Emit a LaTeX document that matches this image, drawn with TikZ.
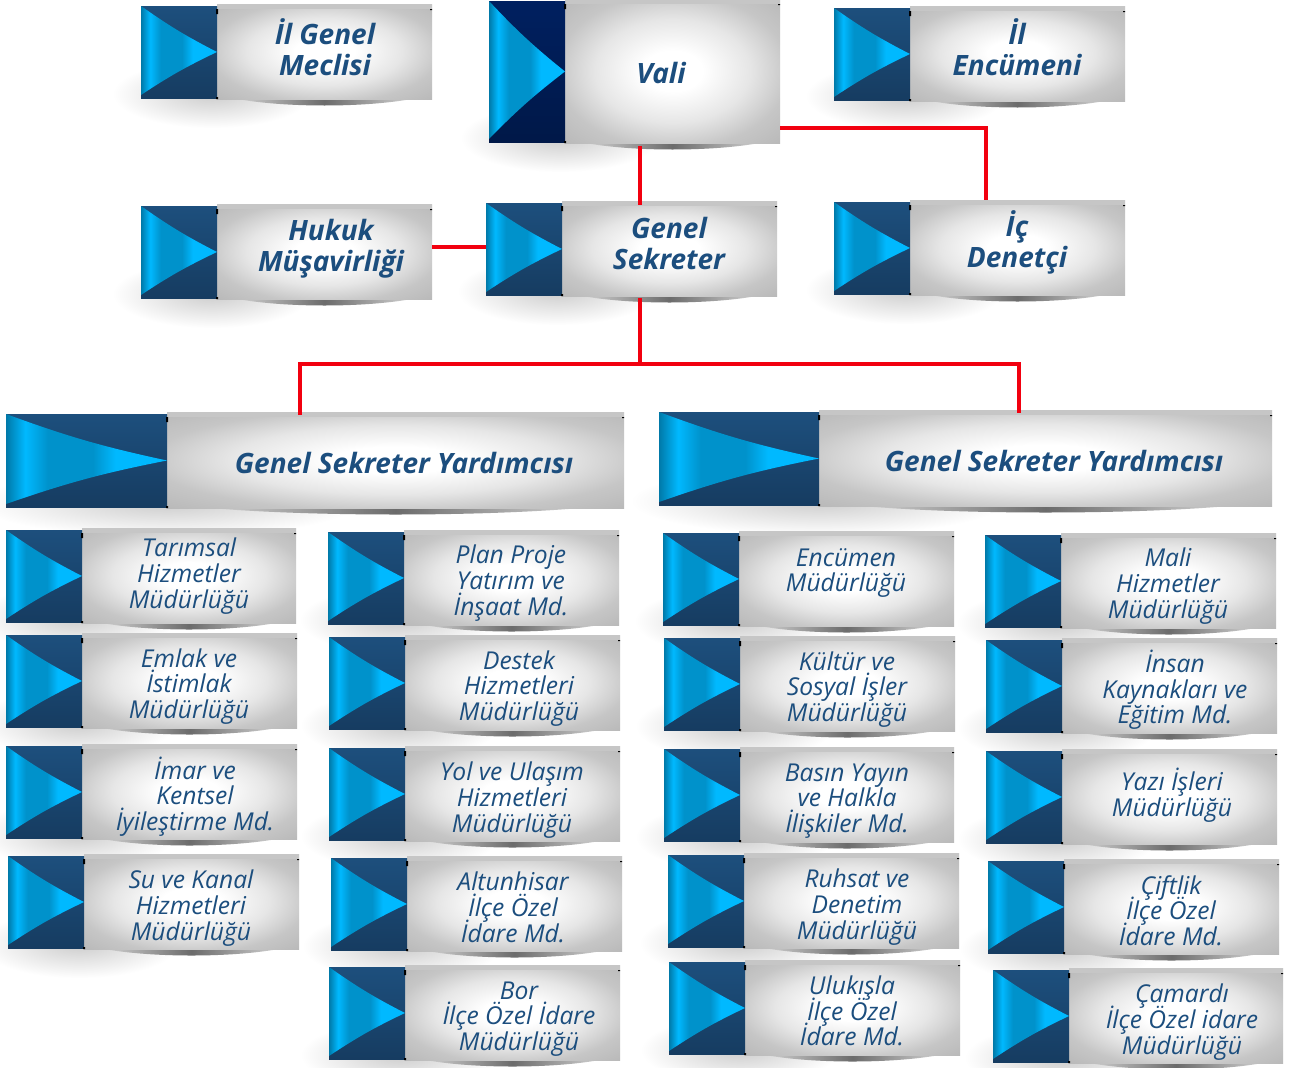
\documentclass[tikz,border=0pt]{standalone}
\usepackage{fontspec}
\setmainfont{Open Sans}
\usetikzlibrary{fadings,calc}
\lineskiplimit=-100pt
\definecolor{inkblue}{HTML}{1C4E7E}
\definecolor{linkred}{HTML}{F2000F}
\definecolor{bandgray}{HTML}{C6C6C6}
\definecolor{blocktop}{HTML}{1D4F7D}
\definecolor{blockbot}{HTML}{163C61}
\definecolor{navytop}{HTML}{002060}
\definecolor{navybot}{HTML}{001848}
\definecolor{triA}{HTML}{0079A8}
\definecolor{triB}{HTML}{00B9FF}
\definecolor{triC}{HTML}{0092CB}
\definecolor{radA}{HTML}{FFFFFF}
\definecolor{radB}{HTML}{E6E6E6}
\definecolor{radC}{HTML}{C6C6C6}
\definecolor{radD}{HTML}{B8B8B8}
\pgfdeclarehorizontalshading{trishade}{100bp}{color(0bp)=(triA); color(25bp)=(triA); color(31bp)=(triB); color(38bp)=(triC); color(52bp)=(triC); color(59bp)=(triB); color(75bp)=(triB); color(100bp)=(triB)}
\pgfdeclareradialshading{bodyshade}{\pgfpointorigin}{color(0bp)=(radA); color(7bp)=(radA); color(18bp)=(radB); color(27bp)=(radC); color(36bp)=(radD); color(50bp)=(radD)}
\tikzfading[name=softblob, inner color=transparent!0, outer color=transparent!100]
\tikzset{
  x=1pt,y=-1pt,
  link/.style={draw=linkred,line width=3.4pt,line join=miter},
  bigtext/.style={font=\fontsize{28}{31}\selectfont\bfseries\itshape,text=inkblue,align=center,inner sep=0pt},
  smalltext/.style={font=\fontsize{24.6}{25.7}\selectfont\itshape,text=inkblue,align=center,inner sep=0pt,yshift=-2.5pt},
  blockfill/.style={top color=blocktop,bottom color=blockbot},
  navyfill/.style={top color=navytop,bottom color=navybot},
  cardbody/.style={shading=bodyshade,inner sep=0pt,outer sep=0pt,anchor=north west},
}
% #1 block style, #2 text style, #3 name, #4 L,S,R,T,B, #5 cx,cy, #6 text
\def\cardparse#1,#2,#3,#4,#5\relax{\def\cL{#1}\def\cS{#2}\def\cR{#3}\def\cT{#4}\def\cB{#5}}
\newcommand\card[6]{%
  \cardparse#4\relax
  \pgfmathsetmacro\cM{(\cT+\cB)/2}
  \pgfmathsetmacro\cW{\cR-\cS}
  \pgfmathsetmacro\cH{\cB-\cT+3}
  \fill[black,opacity=.2,path fading=softblob] (\cL-28,\cB-38) rectangle (\cL+0.55*\cR-0.55*\cL+10,\cB+30);
  \shade[left color=bandgray!70,right color=bandgray!70,middle color=black!58]
    (\cS+0.07*\cW,\cB) .. controls (\cS+0.3*\cW,\cB+10) and (\cS+0.7*\cW,\cB+10) .. (\cR-0.07*\cW,\cB) -- cycle;
  \node[cardbody,minimum width=\cW pt,minimum height=\cH pt] (#3) at (\cS,\cT-2) {};
  \fill[bandgray] (\cS,\cT-2) rectangle (\cR,\cT+3);
  \fill[#1] (\cL,\cT) rectangle (\cS,\cB);
  \shade[shading=trishade] (\cL,\cT) to[bend right=4] (\cS,\cM) to[bend right=4] (\cL,\cB-3) -- cycle;
  \fill[black] (\cS-1,\cT+3) rectangle (\cS+1,\cT+8) (\cS-1,\cB-1) rectangle (\cS+1,\cB+1) (\cR-2,\cT+3) rectangle (\cR,\cT+4);
  \node[#2] (#3-label) at (#5) {#6};
}
\begin{document}
\begin{tikzpicture}
\useasboundingbox (0,0) rectangle (1293,1068);
\fill[white] (0,0) rectangle (1293,1068);
% top rows
\card{blockfill}{bigtext}{meclis}{141,217,432,6,98}{325,47.5}{İl Genel\\Meclisi}
\card{navyfill}{bigtext}{vali}{489,565,780,1,142}{661,73}{Vali}
\card{blockfill}{bigtext}{encumen}{834,910,1125,8,100}{1017,47}{İl\\Encümeni}
\card{blockfill}{bigtext}{hukuk}{141,217,432,206,298}{331,248.5}{Hukuk\\Müşavirliği}
\card{blockfill}{bigtext}{sekreter}{486,562,777,203,295}{669,243.5}{Genel\\Sekreter}
\card{blockfill}{bigtext}{denetci}{834,910,1125,202,294}{1017,242.5}{İç\\Denetçi}
% deputies
\card{blockfill}{bigtext}{gsyl}{6,167,624,414,507}{404,463}{Genel Sekreter Yardımcısı}
\card{blockfill}{bigtext}{gsyr}{659,819,1272,412,505}{1054,461}{Genel Sekreter Yardımcısı}
% column 1
\card{blockfill}{smalltext}{tarim}{6,82,296,530,622}{189,573.5}{Tarımsal\\Hizmetler\\Müdürlüğü}
\card{blockfill}{smalltext}{emlak}{6,82,297,635,727}{189,684}{Emlak ve\\İstimlak\\Müdürlüğü}
\card{blockfill}{smalltext}{imar}{6,82,297,746,838}{195,794}{İmar ve\\Kentsel\\İyileştirme Md.}
\card{blockfill}{smalltext}{su}{8,84,299,856,948}{191,905.5}{Su ve Kanal\\Hizmetleri\\Müdürlüğü}
% column 2
\card{blockfill}{smalltext}{plan}{328,404,619,532,624}{511,580.5}{Plan Proje\\Yatırım ve\\İnşaat Md.}
\card{blockfill}{smalltext}{destek}{329,405,620,637,729}{519,686}{Destek\\Hizmetleri\\Müdürlüğü}
\card{blockfill}{smalltext}{yol}{329,405,620,748,840}{512,797.5}{Yol ve Ulaşım\\Hizmetleri\\Müdürlüğü}
\card{blockfill}{smalltext}{altun}{331,407,622,858,950}{513,905}{Altunhisar\\İlçe Özel\\İdare Md.}
\card{blockfill}{smalltext}{bor}{329,405,620,967,1059}{519,1016.5}{Bor\\İlçe Özel İdare\\Müdürlüğü}
% column 3
\card{blockfill}{smalltext}{encm}{663,739,954,533,625}{846,570.5}{Encümen\\Müdürlüğü}
\card{blockfill}{smalltext}{kultur}{664,740,955,638,730}{847,687}{Kültür ve\\Sosyal İşler\\Müdürlüğü}
\card{blockfill}{smalltext}{basin}{664,740,954,749,841}{847,798.5}{Basın Yayın\\ve Halkla\\İlişkiler Md.}
\card{blockfill}{smalltext}{ruhsat}{668,744,959,855,947}{857,904.5}{Ruhsat ve\\Denetim\\Müdürlüğü}
\card{blockfill}{smalltext}{ulukisla}{669,745,960,962,1054}{852,1008.5}{Ulukışla\\İlçe Özel\\İdare Md.}
% column 4
\card{blockfill}{smalltext}{mali}{985,1061,1276,535,627}{1168,583.5}{Mali\\Hizmetler\\Müdürlüğü}
\card{blockfill}{smalltext}{insan}{986,1062,1277,640,732}{1175,687.5}{İnsan\\Kaynakları ve\\Eğitim Md.}
\card{blockfill}{smalltext}{yazi}{986,1062,1277,751,843}{1172,793}{Yazı İşleri\\Müdürlüğü}
\card{blockfill}{smalltext}{ciftlik}{988,1064,1279,861,953}{1171,908}{Çiftlik\\İlçe Özel\\İdare Md.}
\card{blockfill}{smalltext}{camardi}{993,1069,1283,970,1062}{1182,1019.5}{Çamardı\\İlçe Özel idare\\Müdürlüğü}
% connectors
\coordinate (valiout) at (640,146);
\coordinate (sektop) at (640,205);
\coordinate (sekout) at (640,298);
\coordinate (fork) at (640,364);
\coordinate (denturn) at (986,128);
\coordinate (hukout) at (432,247);
\coordinate (sekin) at (486,247);
\coordinate (forkl) at (300,364);
\coordinate (forkr) at (1019,364);
\coordinate (gsyltop) at (300,415);
\coordinate (gsyrtop) at (1019,413);
\draw[link] (valiout) -- (sektop);
\draw[link] (vali.east |- denturn) -- (denturn) -- (denturn |- denetci.north);
\draw[link] (hukout) -- (sekin);
\draw[link] (sekout) -- (fork);
\draw[link] (gsyltop) -- (forkl) -- (forkr) -- (gsyrtop);
\end{tikzpicture}
\end{document}
